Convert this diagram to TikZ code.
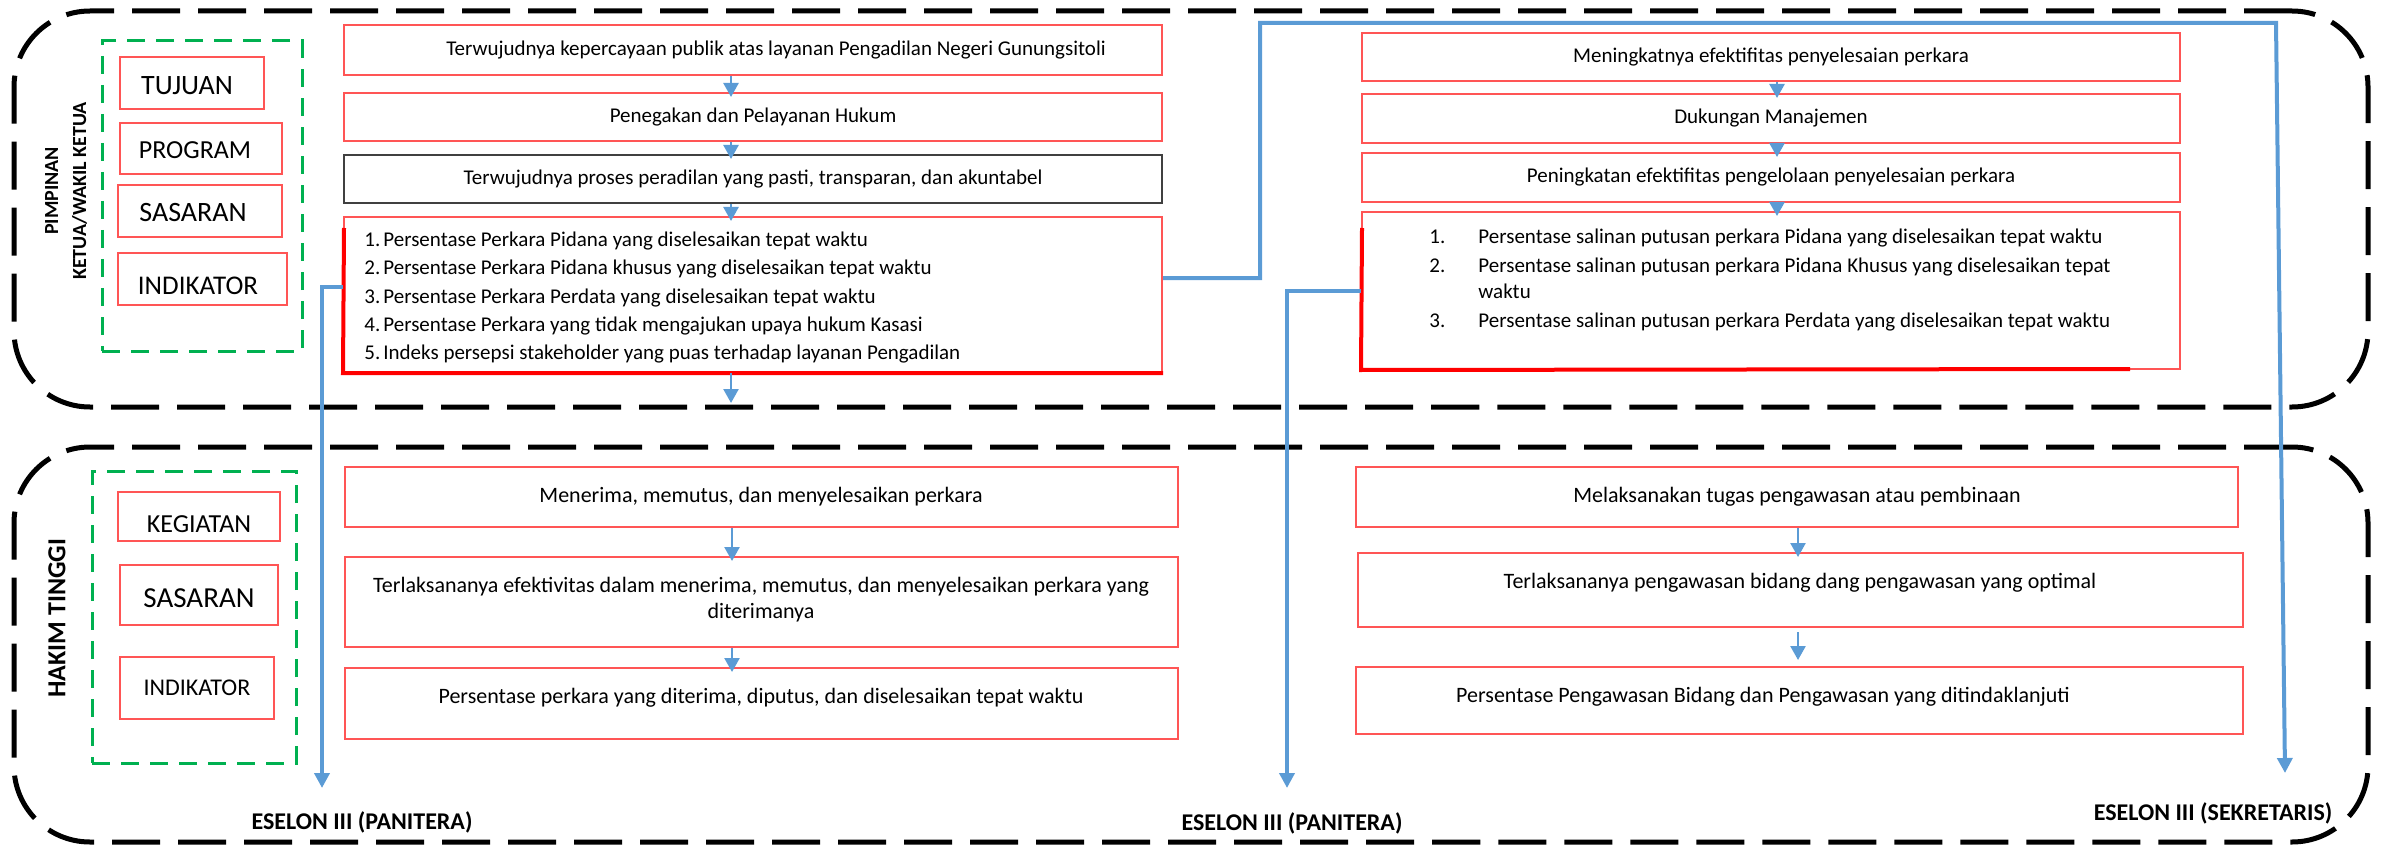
\documentclass[tikz,border=0pt]{standalone}
\usepackage{fontspec}
\setmainfont{Carlito}
\usetikzlibrary{arrows.meta,fit}
\definecolor{boxred}{HTML}{FF5555}
\definecolor{thickred}{HTML}{FF0000}
\definecolor{boxgray}{HTML}{404040}
\definecolor{flowblue}{HTML}{5B9BD5}
\definecolor{dashgreen}{HTML}{00B050}
\begin{document}
\begin{tikzpicture}[x=0.5pt,y=-0.5pt,
  panel/.style={draw=black, line width=2.5pt, dash pattern=on 24pt off 9pt, rounded corners=38pt, inner sep=0pt},
  greenbox/.style={draw=dashgreen, line width=1.5pt, dash pattern=on 9pt off 5.5pt, inner sep=0pt},
  rbox/.style={draw=boxred, line width=1pt, inner sep=0pt},
  gbox/.style={draw=boxgray, line width=1pt, inner sep=0pt},
  redline/.style={draw=thickred, line width=2pt},
  txt/.style={inner sep=0pt, font=\fontsize{10.5}{13}\selectfont, align=center},
  btxt/.style={inner sep=0pt, font=\fontsize{11}{13}\selectfont, align=center},
  listtxt/.style={inner sep=0pt, anchor=base west, font=\fontsize{10.5}{13}\selectfont},
  side/.style={inner sep=0pt, font=\bfseries, align=center, rotate=90},
  flow/.style={draw=flowblue, line width=1.25pt, -{Triangle[width=7.5pt,length=7pt]}, shorten >=-2.5pt},
  link/.style={draw=flowblue, line width=2pt, -{Triangle[width=7.5pt,length=7.5pt]}},
  eselon/.style={inner sep=0pt, font=\bfseries\fontsize{12}{14}\selectfont},
]
\useasboundingbox (0,0) rectangle (2381,845);

% panels
\node[panel, fit={(14,11)(2368,407)}] (toppanel) {};
\node[panel, fit={(14,447)(2368,842)}] (botpanel) {};

% side labels
\node[side, font=\bfseries\fontsize{10}{14}\selectfont] (pimp) at (66,191) {PIMPINAN\\KETUA/WAKIL KETUA};
\node[side, font=\bfseries\fontsize{13}{15}\selectfont] (hakim) at (57,618) {HAKIM TINGGI};

% top legend
\node[greenbox, fit={(102,41)(302,351)}] (gtop) {};
\node[rbox, fit={(120,57)(264,109)}] (tujuan) {};
\node[inner sep=0pt, font=\fontsize{14}{16}\selectfont] (tujuanT) at (187,86) {TUJUAN};
\node[rbox, fit={(120,123)(282,174)}] (program) {};
\node[inner sep=0pt, font=\fontsize{13}{16}\selectfont] (programT) at (195,150) {PROGRAM};
\node[rbox, fit={(118,185)(282,237)}] (sasaran) {};
\node[inner sep=0pt, font=\fontsize{14}{16}\selectfont] (sasaranT) at (193,213) {SASARAN};
\node[rbox, fit={(118,253)(287,305)}] (indikator) {};
\node[inner sep=0pt, font=\fontsize{13.5}{16}\selectfont] (indikatorT) at (198,286) {INDIKATOR};

% bottom legend
\node[greenbox, fit={(92,471)(296,763)}] (gbot) {};
\node[rbox, fit={(118,492)(280,541)}] (kegiatan) {};
\node[inner sep=0pt, font=\fontsize{13}{16}\selectfont] (kegiatanT) at (199,524) {KEGIATAN};
\node[rbox, fit={(120,565)(278,625)}] (sasaranb) {};
\node[inner sep=0pt, font=\fontsize{14.5}{16}\selectfont] (sasaranbT) at (199,598) {SASARAN};
\node[rbox, fit={(120,657)(274,719)}] (indikatorb) {};
\node[inner sep=0pt, font=\fontsize{12}{16}\selectfont] (indikatorbT) at (197,688) {INDIKATOR};

% top-left column
\node[rbox, fit={(344,25)(1162,75)}] (t1) {};
\node[txt] (t1T) at (776,50) {Terwujudnya kepercayaan publik atas layanan Pengadilan Negeri Gunungsitoli};
\node[rbox, fit={(344,93)(1162,141)}] (t2) {};
\node[txt] (t2T) at (753,117) {Penegakan dan Pelayanan Hukum};
\node[gbox, fit={(344,155)(1162,203)}] (t3) {};
\node[txt] (t3T) at (753,179) {Terwujudnya proses peradilan yang pasti, transparan, dan akuntabel};
\node[rbox, fit={(344,217)(1162,372)}] (t4) {};
\draw[redline] (344,228) -- (t4.south west) -- (t4.south east);
\node[listtxt] (l1) at (364,247) {\makebox[9.5pt][l]{1.}Persentase Perkara Pidana yang diselesaikan tepat waktu};
\node[listtxt] (l2) at (364,275) {\makebox[9.5pt][l]{2.}Persentase Perkara Pidana khusus yang diselesaikan tepat waktu};
\node[listtxt] (l3) at (364,303) {\makebox[9.5pt][l]{3.}Persentase Perkara Perdata yang diselesaikan tepat waktu};
\node[listtxt] (l4) at (364,331) {\makebox[9.5pt][l]{4.}Persentase Perkara yang tidak mengajukan upaya hukum Kasasi};
\node[listtxt] (l5) at (364,359) {\makebox[9.5pt][l]{5.}Indeks persepsi stakeholder yang puas terhadap layanan Pengadilan};

\draw[flow] ([xshift=-11pt]t1.south) -- ([xshift=-11pt]t2.north);
\draw[flow] ([xshift=-11pt]t2.south) -- ([xshift=-11pt]t3.north);
\draw[flow] ([xshift=-11pt]t3.south) -- ([xshift=-11pt]t4.north);
\coordinate (t4down) at (731,403);
\draw[flow, shorten >=0pt] ([xshift=-11pt]t4.south) -- (t4down);

% top-right column
\node[rbox, fit={(1362,33)(2180,81)}] (r1) {};
\node[txt] (r1T) at (1771,57) {Meningkatnya efektifitas penyelesaian perkara};
\node[rbox, fit={(1362,94)(2180,143)}] (r2) {};
\node[txt] (r2T) at (1771,118) {Dukungan Manajemen};
\node[rbox, fit={(1362,153)(2180,202)}] (r3) {};
\node[txt] (r3T) at (1771,177) {Peningkatan efektifitas pengelolaan penyelesaian perkara};
\node[rbox, fit={(1362,212)(2180,369)}] (r4) {};
\draw[redline] (1362,228) -- (r4.south west) -- (2130,369);
\node[listtxt] (m1n) at (1429,243) {1.};
\node[listtxt] (m1) at (1478,243) {Persentase salinan putusan perkara Pidana yang diselesaikan tepat waktu};
\node[listtxt] (m2n) at (1429,272) {2.};
\node[listtxt] (m2) at (1478,272) {Persentase salinan putusan perkara Pidana Khusus yang diselesaikan tepat};
\node[listtxt] (m2b) at (1478,299) {waktu};
\node[listtxt] (m3n) at (1429,327) {3.};
\node[listtxt] (m3) at (1478,327) {Persentase salinan putusan perkara Perdata yang diselesaikan tepat waktu};

\draw[flow] ([xshift=3pt]r1.south) -- ([xshift=3pt]r2.north);
\draw[flow] ([xshift=3pt]r2.south) -- ([xshift=3pt]r3.north);
\draw[flow] ([xshift=3pt]r3.south) -- ([xshift=3pt]r4.north);

% bottom-left column
\node[rbox, fit={(345,467)(1178,527)}] (b1) {};
\node[btxt] (b1T) at (761,497) {Menerima, memutus, dan menyelesaikan perkara};
\node[rbox, fit={(345,557)(1178,647)}] (b2) {};
\node[btxt] (b2T) at (761,600) {Terlaksananya efektivitas dalam menerima, memutus, dan menyelesaikan perkara yang\\diterimanya};
\node[rbox, fit={(345,668)(1178,739)}] (b3) {};
\node[btxt] (b3T) at (761,698) {Persentase perkara yang diterima, diputus, dan diselesaikan tepat waktu};
\draw[flow] ([xshift=-14.75pt]b1.south) -- ([xshift=-14.75pt]b2.north);
\draw[flow] ([xshift=-14.75pt]b2.south) -- ([xshift=-14.75pt]b3.north);

% bottom-right column
\node[rbox, fit={(1356,467)(2238,527)}] (s1) {};
\node[btxt] (s1T) at (1797,497) {Melaksanakan tugas pengawasan atau pembinaan};
\node[rbox, fit={(1358,553)(2243,627)}] (s2) {};
\node[btxt] (s2T) at (1800,583) {Terlaksananya pengawasan bidang dang pengawasan yang optimal};
\node[rbox, fit={(1356,667)(2243,734)}] (s3) {};
\node[btxt] (s3T) at (1763,697) {Persentase Pengawasan Bidang dan Pengawasan yang ditindaklanjuti};
\draw[flow] ([xshift=0.5pt]s1.south) -- ([xshift=-1.25pt]s2.north);
\draw[flow, shorten <=2pt, shorten >=3pt] ([xshift=-1.25pt]s2.south) -- ([xshift=-0.75pt]s3.north);

% eselon labels
\node[eselon] (e1) at (362,822) {ESELON III (PANITERA)};
\node[eselon] (e2) at (1292,823) {ESELON III (PANITERA)};
\node[eselon] (e3) at (2213,813) {ESELON III (SEKRETARIS)};

% long connectors
\coordinate (c1a) at (1260,278);
\coordinate (c1b) at (1260,23);
\coordinate (c1c) at (2276,23);
\coordinate (c1d) at (2285,773);
\draw[link] ([yshift=8.25pt]t4.east) -- (c1a) -- (c1b) -- (c1c) -- (c1d);
\coordinate (c2a) at (322,287);
\coordinate (c2b) at (322,788);
\draw[link] ([yshift=3.75pt]t4.west) -- (c2a) -- (c2b);
\coordinate (c3a) at (1287,290.5);
\coordinate (c3b) at (1287,788);
\draw[link] (r4.west) -- (c3a) -- (c3b);
\end{tikzpicture}
\end{document}
